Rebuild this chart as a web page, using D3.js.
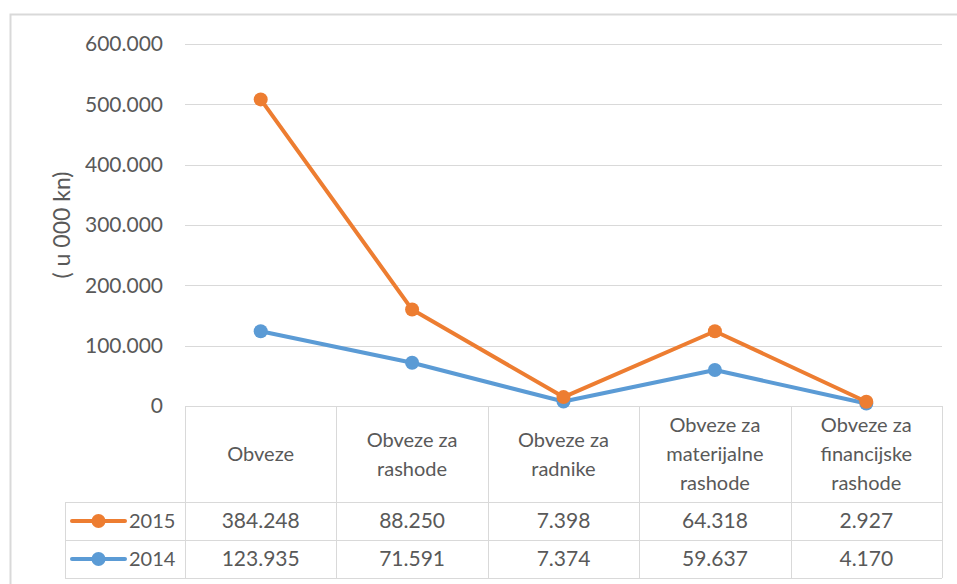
<!DOCTYPE html>
<html>
<head>
<meta charset="utf-8">
<script src="https://cdn.jsdelivr.net/npm/d3@7"></script>
<style>
  body { margin: 0; background: #fff; }
  text { font-family: Lato, "Open Sans", sans-serif; fill: #595959; }
</style>
</head>
<body>
<div class="graph"></div>
<script>
const w = 957;
const h = 584;
const margin = {top: 44, left: 185, right: 15};
const plotBottom = 406;

// data
const categories = [
  ["Obveze"],
  ["Obveze za", "rashode"],
  ["Obveze za", "radnike"],
  ["Obveze za", "materijalne", "rashode"],
  ["Obveze za", "financijske", "rashode"]
];
const values2015 = [384248, 88250, 7398, 64318, 2927];
const values2014 = [123935, 71591, 7374, 59637, 4170];
const yTicks = [0, 100000, 200000, 300000, 400000, 500000, 600000];

const seriesNames = ["2015", "2014"];
const color = d3.scaleOrdinal(seriesNames, ["#ED7D31", "#5B9BD5"]);

const rows = categories.map((c, i) => ({i: i, "2014": values2014[i], "2015": values2015[i]}));
// stacked line chart: 2014 at the bottom, 2015 on top of it
const stacked = d3.stack().keys(["2014", "2015"])(rows);

const fmt = v => d3.format(",")(v).replace(/,/g, ".");

const canvas = d3.select('.graph')
  .append("svg")
  .attr("width", w)
  .attr("height", h);

// chart border
canvas.append("rect")
  .attr("x", 10.5).attr("y", 14.5)
  .attr("width", w + 20).attr("height", h + 20)
  .attr("fill", "none")
  .attr("stroke", "#d9d9d9")
  .attr("stroke-width", 2);

const xScale = d3.scaleBand()
  .domain(d3.range(categories.length))
  .range([margin.left, w - margin.right]);

const yScale = d3.scaleLinear()
  .domain([0, 600000])
  .range([plotBottom, margin.top]);

// gridlines
canvas.append("g")
  .selectAll("line")
  .data(yTicks)
  .enter().append("line")
  .attr("x1", margin.left)
  .attr("x2", w - margin.right)
  .attr("y1", d => Math.round(yScale(d)) + 0.5)
  .attr("y2", d => Math.round(yScale(d)) + 0.5)
  .attr("stroke", "#d9d9d9")
  .attr("stroke-width", 1);

// y axis labels
const yAxis = d3.axisLeft(yScale).tickValues(yTicks).tickFormat(fmt).tickSize(0).tickPadding(0);
const yg = canvas.append("g")
  .attr("transform", `translate(${margin.left - 22}, 0)`)
  .call(yAxis);
yg.select(".domain").remove();
yg.selectAll("text")
  .style("font-size", "21px")
  .attr("fill", "#595959")
  .style("font-family", "Lato, 'Open Sans', sans-serif");

canvas.append('text')
  .attr('transform', 'rotate(-90)')
  .attr('x', -225)
  .attr('y', 70)
  .attr('text-anchor', 'middle')
  .style('font-size', '23px')
  .text('( u 000 kn)');

// table
const rowH = 38;
const headBottom = 502;
const tableBottom = headBottom + rowH * 2;
const tbl = canvas.append("g").attr("stroke", "#d9d9d9").attr("stroke-width", 1);

const colEdges = xScale.domain().map(i => xScale(i)).concat([w - margin.right]);
tbl.selectAll(".vline")
  .data(colEdges)
  .enter().append("line")
  .attr("x1", d => Math.round(d) + 0.5).attr("x2", d => Math.round(d) + 0.5)
  .attr("y1", plotBottom).attr("y2", tableBottom);

tbl.append("line")
  .attr("x1", 65.5).attr("x2", 65.5)
  .attr("y1", headBottom).attr("y2", tableBottom);

tbl.selectAll(".hline")
  .data([headBottom, headBottom + rowH, tableBottom])
  .enter().append("line")
  .attr("x1", 65).attr("x2", w - margin.right)
  .attr("y1", d => d + 0.5).attr("y2", d => d + 0.5);

// category headers
const lineH = 29;
canvas.selectAll(".cat")
  .data(categories)
  .enter().append("text")
  .attr("class", "cat")
  .attr("text-anchor", "middle")
  .style("font-size", "20px")
  .each(function(lines, i) {
    const cx = xScale(i) + xScale.bandwidth() / 2;
    const cy = (plotBottom + headBottom) / 2 - (lines.length - 1) * lineH / 2;
    d3.select(this).selectAll("tspan")
      .data(lines)
      .enter().append("tspan")
      .attr("x", cx)
      .attr("y", (d, j) => cy + j * lineH)
      .attr("dy", "0.35em")
      .text(d => d);
  });

// value rows
const tableRows = [["2015", values2015], ["2014", values2014]];
tableRows.forEach(([name, vals], r) => {
  const cy = headBottom + rowH * r + rowH / 2;
  canvas.selectAll(".val" + name)
    .data(vals)
    .enter().append("text")
    .attr("x", (d, i) => xScale(i) + xScale.bandwidth() / 2)
    .attr("y", cy)
    .attr("dy", "0.35em")
    .attr("text-anchor", "middle")
    .style("font-size", "21px")
    .text(fmt);

  const lg = canvas.append("g").attr("transform", `translate(0, ${cy})`);
  lg.append("line")
    .attr("x1", 72).attr("x2", 125)
    .attr("stroke", color(name))
    .attr("stroke-width", 4)
    .attr("stroke-linecap", "round");
  lg.append("circle")
    .attr("cx", 98.5).attr("r", 7)
    .attr("fill", color(name));
  lg.append("text")
    .attr("x", 129)
    .attr("dy", "0.35em")
    .style("font-size", "20px")
    .text(name);
});

// lines
const line = d3.line()
  .x(d => xScale(d.data.i) + xScale.bandwidth() / 2)
  .y(d => yScale(d[1]));

const series = canvas.selectAll(".series")
  .data(stacked)
  .enter().append("g")
  .attr("class", "series");

series.append("path")
  .attr("d", d => line(d))
  .attr("fill", "none")
  .attr("stroke", d => color(d.key))
  .attr("stroke-width", 4)
  .attr("stroke-linejoin", "round")
  .attr("stroke-linecap", "round");

series.selectAll("circle")
  .data(d => d.map(p => ({p: p, key: d.key})))
  .enter().append("circle")
  .attr("cx", d => xScale(d.p.data.i) + xScale.bandwidth() / 2)
  .attr("cy", d => yScale(d.p[1]))
  .attr("r", 7)
  .attr("fill", d => color(d.key));
</script>
</body>
</html>
